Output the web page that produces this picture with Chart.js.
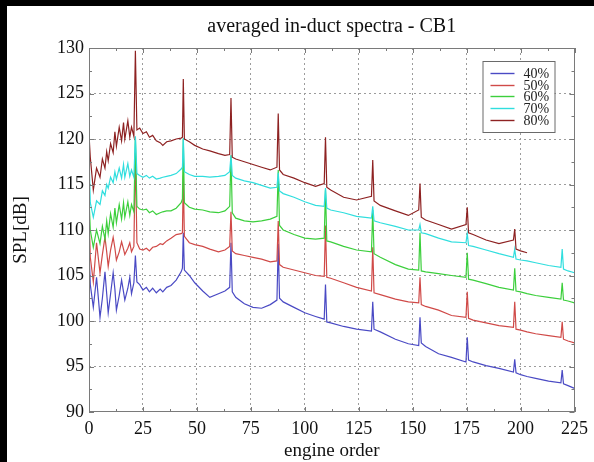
<!DOCTYPE html>
<html>
<head>
<meta charset="utf-8">
<script src="https://cdn.jsdelivr.net/npm/chart.js@4.4.1/dist/chart.umd.min.js"></script>
<style>
  html, body { margin: 0; padding: 0; background: #fff; }
  canvas { display: block; }
</style>
</head>
<body>
<canvas id="spectra" width="594" height="462"></canvas>
<script>
// engine orders shared by all five spectra
const orders = [
  0, 0.6, 2, 3.5, 5.1, 6.2, 7.4, 8.2, 8.9, 10,
  11.2, 12, 12.7, 14, 15.1, 16, 16.6, 18, 18.9, 19.7,
  20.8, 21.5, 22.2, 23.5, 25, 26.6, 28, 29.5, 31.2, 33,
  34.2, 36, 38, 40.4, 42.7, 43.3, 43.7, 44.2, 46.5, 49,
  52.7, 56, 60, 63, 65.2, 65.8, 66.4, 68, 72, 76,
  80, 84, 87.1, 87.7, 88.3, 90, 95, 100, 105, 109,
  109.6, 110.2, 112, 118, 124, 130.9, 131.5, 132.1, 135, 142,
  148, 152.8, 153.4, 154, 156, 162, 168, 174.7, 175.3, 175.9,
  178, 184, 190, 196.7, 197.3, 197.9, 200, 203, 207, 213,
  218.7, 219.3, 219.9, 222, 225
];

const spl40 = [
  107.8, 104, 101.5, 104.8, 100.4, 102.5, 105.4, 103, 100.9, 103,
  105.3, 103.5, 101.2, 102.8, 104.5, 103.2, 102.3, 103.6, 104.8, 103,
  104.2, 107.2, 104.3, 104, 103.4, 103.7, 103.2, 103.6, 103.1, 103.5,
  103.2, 103.7, 103.9, 104.5, 105.4, 105.8, 109.7, 105.6, 105, 104.2,
  103.3, 102.6, 103, 103.3, 103.7, 108.6, 103.2, 102.6, 101.9, 101.5,
  101.4, 101.8, 102.3, 108.5, 102.5, 102.1, 101.5, 100.9, 100.5, 100.2,
  104, 99.9, 99.8, 99.4, 99.1, 98.9, 102.1, 99.1, 98.8, 98,
  97.5, 97.3, 100.4, 97.6, 97.2, 96.4, 96, 95.5, 98.2, 95.7,
  95.5, 95.1, 94.8, 94.4, 95.8, 94.3, 94.1, 93.9, 93.7, 93.4,
  93.2, 94.6, 93.1, 92.9, 92.6
];

const spl50 = [
  111.9, 107, 104.3, 108.6, 105.3, 107.3, 109.2, 107.6, 106, 107.8,
  109.2, 108, 106.7, 107.6, 108.7, 107.9, 107.3, 108, 108.6, 107.6,
  108.2, 118.5, 108.6, 107.9, 107.8, 108, 107.7, 108.1, 108.2, 108.5,
  108.4, 108.8, 109.1, 109.5, 109.6, 109.7, 116, 109.3, 108.6, 108.4,
  108.2, 107.9, 107.6, 107.8, 108.2, 112, 107.7, 107.4, 107.2, 107,
  106.8, 106.5, 106.6, 111, 106.2, 105.9, 105.6, 105.3, 105, 104.9,
  110.5, 104.8, 104.7, 104.2, 103.7, 103.3, 108.1, 103.1, 102.9, 102.4,
  102.1, 102, 104.8, 101.8, 101.6, 101.2, 100.6, 100.4, 103.2, 100.3,
  100.1, 99.8, 99.5, 99.3, 102.1, 99.1, 99, 98.8, 98.6, 98.4,
  98.2, 99.9, 98, 97.8, 97.6
];

const spl60 = [
  113.6, 110, 108.1, 110, 108.5, 110.4, 109, 111, 109.6, 111.8,
  110.3, 112.4, 110.8, 112.8, 111.2, 113, 111.4, 113.1, 111.6, 112.8,
  112, 120.2, 112.6, 112.3, 112.2, 112.3, 111.9, 112.1, 111.7, 111.9,
  112, 112.1, 112.1, 112.4, 113, 113.4, 120, 113, 112.5, 112.3,
  112.2, 112, 111.9, 112.1, 112.6, 118.2, 111.9, 111.3, 111, 110.9,
  111, 111.2, 111.5, 116.6, 110.5, 110, 109.5, 109.1, 109, 109.1,
  114.4, 108.8, 108.7, 108.2, 107.8, 107.6, 112.2, 107.4, 107, 106.2,
  105.7, 105.6, 109.7, 105.5, 105.4, 105.2, 105, 104.8, 107.5, 104.6,
  104.5, 104.1, 103.7, 103.4, 105.8, 103.3, 103.2, 103, 102.8, 102.6,
  102.4, 104.2, 102.3, 102.2, 102
];

const spl70 = [
  118.5, 113, 111.4, 113.2, 112.8, 114.3, 113.8, 115, 114.6, 115.8,
  115.2, 116.4, 115.6, 116.8, 115.7, 117.2, 115.8, 117.3, 115.9, 116.6,
  115.8, 120.3, 116.2, 116, 115.8, 116, 115.7, 115.9, 115.6, 115.7,
  115.8, 115.9, 116, 116.2, 116.7, 116.9, 120.1, 116.4, 116.1, 115.9,
  115.9, 115.8, 115.9, 116, 116.4, 118.2, 116, 115.7, 115.4, 115.2,
  114.9, 114.6, 114.7, 116.3, 114.3, 114, 113.6, 113.1, 112.7, 112.6,
  114.6, 112.4, 112.2, 111.9, 111.5, 111.3, 112.6, 111, 110.8, 110.4,
  110, 110, 110.6, 109.7, 109.6, 109.1, 108.7, 108.6, 109.6, 108.3,
  108.2, 107.8, 107.4, 107, 107.9, 106.8, 106.7, 106.6, 106.4, 106.1,
  105.9, 107.9, 105.7, 105.5, 105.3
];

// 80% stops at about order 203
const spl80 = [
  120.5, 118, 114.4, 116.8, 115.8, 117.8, 116.8, 118.6, 117.6, 119.5,
  118.5, 120.8, 119.2, 121.3, 119.8, 121.8, 120, 122, 120.2, 121.3,
  120.3, 129.7, 121, 121.2, 120.6, 120.8, 120.2, 120.4, 119.8, 119.6,
  119.3, 119.7, 119.8, 120, 120.1, 120.2, 126.6, 120, 119.7, 119.3,
  118.9, 118.7, 118.4, 118.2, 118.3, 124.5, 118, 117.8, 117.5, 117.2,
  116.9, 116.6, 116.9, 122.8, 116.6, 116.1, 115.7, 115.2, 114.8, 115.1,
  120.2, 114.7, 114.4, 113.6, 113.3, 113.7, 117.7, 113.2, 112.7, 112.1,
  111.6, 112.2, 115.1, 111.4, 111.1, 110.6, 110.1, 110.6, 112.5, 109.7,
  109.5, 108.9, 108.5, 108.9, 110.1, 107.9, 107.7, 107.5, null, null,
  null, null, null, null, null
];

const seriesLabels = ['40%', '50%', '60%', '70%', '80%'];
const seriesColors = ['#4a4ac4', '#d04a48', '#3ccf3c', '#30dede', '#8e2222'];
const xTicks = [0, 25, 50, 75, 100, 125, 150, 175, 200, 225];
const yTicks = [90, 95, 100, 105, 110, 115, 120, 125, 130];

const serif = '"Liberation Serif", "DejaVu Serif", serif';
const allSpl = [spl40, spl50, spl60, spl70, spl80];

// frame, inward ticks, title and the boxed legend
const decor = {
  id: 'decor',
  beforeDraw(chart) {
    const c = chart.ctx;
    c.save();
    c.fillStyle = '#fff';
    c.fillRect(0, 0, chart.width, chart.height);
    c.fillStyle = '#000';
    c.fillRect(0, 0, chart.width, 6);
    c.fillRect(0, 0, 7, chart.height);
    c.restore();
  },
  afterDraw(chart) {
    const c = chart.ctx;
    const a = chart.chartArea;
    const x = chart.scales.x, y = chart.scales.y;
    c.save();
    c.strokeStyle = '#7a7a7a';
    c.lineWidth = 1;
    c.strokeRect(Math.round(a.left) + 0.5, Math.round(a.top) + 0.5,
      Math.round(a.right - a.left) - 1, Math.round(a.bottom - a.top) - 1);

    c.beginPath();
    for (let i = 0; i < xTicks.length; i++) {
      for (const v of [xTicks[i], xTicks[i] + 12.5]) {
        if (v > 225) continue;
        const len = v === xTicks[i] ? 5 : 3;
        const px = Math.round(x.getPixelForValue(v)) + 0.5;
        c.moveTo(px, a.bottom); c.lineTo(px, a.bottom - len);
        c.moveTo(px, a.top); c.lineTo(px, a.top + len);
      }
    }
    for (let i = 0; i < yTicks.length; i++) {
      for (const v of [yTicks[i], yTicks[i] + 2.5]) {
        if (v > 130) continue;
        const len = v === yTicks[i] ? 5 : 3;
        const py = Math.round(y.getPixelForValue(v)) + 0.5;
        c.moveTo(a.left, py); c.lineTo(a.left + len, py);
        c.moveTo(a.right, py); c.lineTo(a.right - len, py);
      }
    }
    c.stroke();

    // title centred over the plot
    c.fillStyle = '#111';
    c.font = '20px ' + serif;
    c.textAlign = 'center';
    c.textBaseline = 'middle';
    c.fillText('averaged in-duct spectra - CB1', (a.left + a.right) / 2, 27);

    // legend box, top right inside the plot
    const bx = a.right - 92, by = a.top + 13, bw = 72, bh = 71;
    c.fillStyle = '#fff';
    c.fillRect(bx, by, bw, bh);
    c.strokeStyle = '#6a6a6a';
    c.strokeRect(bx + 0.5, by + 0.5, bw, bh);
    c.font = '14px ' + serif;
    c.textAlign = 'left';
    c.lineWidth = 1.4;
    chart.data.datasets.forEach((ds, i) => {
      const ly = Math.round(by + 12 + i * 11.7) + 0.5;
      c.strokeStyle = ds.borderColor;
      c.beginPath();
      c.moveTo(bx + 8, ly); c.lineTo(bx + 32, ly);
      c.stroke();
      c.fillStyle = '#222';
      c.fillText(ds.label, bx + 41, ly + 1);
    });
    c.restore();
  }
};

const gridColor = ctx => {
  const v = ctx.tick && ctx.tick.value;
  return (v === 0 || v === 225 || v === 90 || v === 130) ? 'rgba(0,0,0,0)' : '#9c9c9c';
};

new Chart(document.getElementById('spectra').getContext('2d'), {
  type: 'line',
  data: {
    datasets: allSpl.map((vals, i) => ({
      label: seriesLabels[i],
      data: orders.map((o, k) => ({ x: o, y: vals[k] })),
      borderColor: seriesColors[i],
      backgroundColor: seriesColors[i],
      borderWidth: 1.2,
      pointRadius: 0,
      tension: 0,
      spanGaps: false,
      order: 4 - i
    }))
  },
  options: {
    responsive: false,
    animation: false,
    layout: { padding: { top: 48, right: 17, left: 0, bottom: 0 } },
    plugins: {
      legend: { display: false },
      title: { display: false },
      tooltip: { enabled: false }
    },
    scales: {
      x: {
        type: 'linear',
        min: 0,
        max: 225,
        afterFit: s => { s.height = 50; },
        afterBuildTicks: s => { s.ticks = xTicks.map(v => ({ value: v })); },
        ticks: { autoSkip: false, maxRotation: 0, padding: 6, color: '#111', font: { family: serif, size: 18 } },
        grid: { color: gridColor, drawTicks: false, lineWidth: 1 },
        border: { display: false, dash: [2, 3] },
        title: { display: true, text: 'engine order', color: '#111',
          font: { family: serif, size: 19, lineHeight: 1 }, padding: { top: 0, bottom: 1 } }
      },
      y: {
        min: 90,
        max: 130,
        afterFit: s => { s.width = 89; },
        afterBuildTicks: s => { s.ticks = yTicks.map(v => ({ value: v })); },
        ticks: { padding: 5, color: '#111', font: { family: serif, size: 18 } },
        grid: { color: gridColor, drawTicks: false, lineWidth: 1 },
        border: { display: false, dash: [2, 3] },
        title: { display: true, text: 'SPL[dB]', color: '#111',
          font: { family: serif, size: 19, lineHeight: 1 }, padding: { top: 12, bottom: 0 } }
      }
    }
  },
  plugins: [decor]
});
</script>
</body>
</html>
